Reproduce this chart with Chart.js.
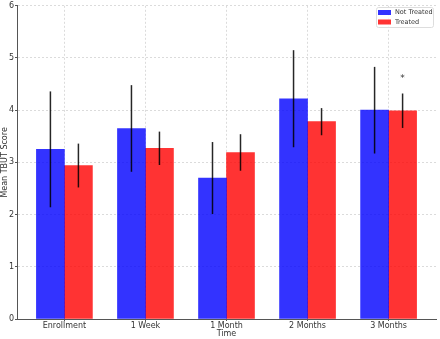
<!DOCTYPE html>
<html>
<head>
<meta charset="utf-8">
<script src="https://cdn.jsdelivr.net/npm/chart.js@4.4.1/dist/chart.umd.min.js"></script>
<style>
  html, body { margin: 0; padding: 0; background: #fff; }
  #wrap { width: 440px; height: 339px; position: relative; }
</style>
</head>
<body>
<div id="wrap"><canvas id="tbutChart"></canvas></div>
<script>
// Datos
const categories = ['Enrollment', '1 Week', '1 Month', '2 Months', '3 Months'];
const notTreated = [3.25, 3.65, 2.70, 4.22, 4.00];
const notTreatedSd = [1.11, 0.83, 0.69, 0.93, 0.83];
const treated = [2.94, 3.27, 3.19, 3.78, 3.99];
const treatedSd = [0.42, 0.32, 0.35, 0.26, 0.33];
const yTicks = [0, 1, 2, 3, 4, 5, 6];
const seriesNames = ['Not Treated', 'Treated'];
const marks = [{ dataset: 1, index: 4, value: 4.64, text: '*' }];

const BLUE = 'rgba(0, 0, 255, 0.8)';
const RED = 'rgba(255, 0, 0, 0.8)';
const FONT = '"DejaVu Sans", sans-serif';
const TEXT = '#333';
const GRID = 'rgba(200, 200, 200, 0.65)';

function toPoints(values) {
    return values.map((v, i) => ({ x: i, y: v }));
}

// Barras de error (sin tapas)
const errorBars = {
    id: 'errorBars',
    afterDatasetsDraw(chart) {
        const ctx = chart.ctx;
        const y = chart.scales.y;
        const sds = [notTreatedSd, treatedSd];
        ctx.save();
        ctx.strokeStyle = 'rgba(0,0,0,0.85)';
        ctx.lineWidth = 1.5;
        chart.data.datasets.forEach((ds, di) => {
            const meta = chart.getDatasetMeta(di);
            meta.data.forEach((bar, i) => {
                const v = ds.data[i].y;
                const sd = sds[di][i];
                ctx.beginPath();
                ctx.moveTo(bar.x, y.getPixelForValue(v + sd));
                ctx.lineTo(bar.x, y.getPixelForValue(v - sd));
                ctx.stroke();
            });
        });
        // asterisco de significancia
        ctx.fillStyle = TEXT;
        ctx.font = '9px ' + FONT;
        ctx.textAlign = 'center';
        ctx.textBaseline = 'middle';
        marks.forEach(m => {
            const bar = chart.getDatasetMeta(m.dataset).data[m.index];
            ctx.fillText(m.text, bar.x, y.getPixelForValue(m.value) + 2);
        });
        ctx.restore();
    }
};

// Leyenda dentro del área del gráfico (arriba a la derecha)
const insideLegend = {
    id: 'insideLegend',
    afterDraw(chart) {
        const ctx = chart.ctx;
        const colors = [BLUE, RED];
        const x0 = 376, y0 = 7, w = 57, h = 20;
        ctx.save();
        ctx.fillStyle = 'rgba(255,255,255,0.8)';
        ctx.strokeStyle = '#ddd';
        ctx.lineWidth = 1;
        ctx.beginPath();
        ctx.roundRect(x0 + 0.5, y0 + 0.5, w, h, 2);
        ctx.fill();
        ctx.stroke();
        ctx.font = '6.5px ' + FONT;
        ctx.textBaseline = 'middle';
        seriesNames.forEach((name, i) => {
            const cy = y0 + 5.5 + i * 9.5;
            ctx.fillStyle = colors[i];
            ctx.fillRect(x0 + 2, cy - 2.5, 13, 5);
            ctx.fillStyle = TEXT;
            ctx.fillText(name, x0 + 19, cy);
        });
        ctx.restore();
    }
};

document.addEventListener('DOMContentLoaded', function() {
    const ctx = document.getElementById('tbutChart').getContext('2d');
    new Chart(ctx, {
        type: 'bar',
        data: {
            datasets: [
                { label: seriesNames[0], data: toPoints(notTreated), backgroundColor: BLUE, borderWidth: 0 },
                { label: seriesNames[1], data: toPoints(treated), backgroundColor: RED, borderWidth: 0 }
            ]
        },
        options: {
            responsive: true,
            maintainAspectRatio: false,
            animation: false,
            barThickness: 28,
            layout: { padding: { top: 0, right: 4, left: 0, bottom: 0 } },
            plugins: {
                legend: { display: false },
                tooltip: { enabled: false }
            },
            scales: {
                x: {
                    type: 'linear',
                    offset: false,
                    min: -0.585,
                    max: 4.585,
                    afterBuildTicks(scale) {
                        scale.ticks = categories.map((c, i) => ({ value: i }));
                    },
                    afterFit(scale) { scale.height = 20; },
                    ticks: {
                        callback: (v) => categories[v],
                        color: TEXT,
                        font: { family: FONT, size: 8 },
                        padding: 0,
                        maxRotation: 0
                    },
                    grid: {
                        offset: false,
                        color: GRID,
                        tickLength: 2,
                        tickColor: '#555',
                        tickBorderDash: []
                    },
                    border: { color: '#555', width: 1, dash: [2, 2] },
                    title: {
                        display: true,
                        text: 'Time',
                        color: TEXT,
                        font: { family: FONT, size: 8 },
                        padding: 0
                    }
                },
                y: {
                    min: 0,
                    max: 6,
                    afterBuildTicks(scale) {
                        scale.ticks = yTicks.map(v => ({ value: v }));
                    },
                    afterFit(scale) { scale.width = 17; },
                    ticks: {
                        color: TEXT,
                        font: { family: FONT, size: 8 },
                        padding: 1
                    },
                    grid: {
                        color: GRID,
                        tickLength: 2,
                        tickColor: '#555',
                        tickBorderDash: []
                    },
                    border: { color: '#555', width: 1, dash: [2, 2] },
                    title: {
                        display: true,
                        text: 'Mean TBUT Score',
                        color: TEXT,
                        font: { family: FONT, size: 8 },
                        padding: 0
                    }
                }
            }
        },
        plugins: [errorBars, insideLegend]
    });
});
</script>
</body>
</html>
